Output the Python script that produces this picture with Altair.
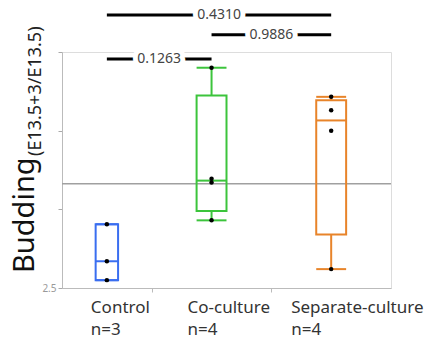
import numpy as np
import pandas as pd
import altair as alt

# ---- data ----
groups = ["Control", "Co-culture", "Separate-culture"]
control_vals = [3.31, 2.84, 2.60]
coculture_vals = [5.30, 3.89, 3.84, 3.36]
separate_vals = [4.93, 4.76, 4.50, 2.74]
group_colors = ["#3a6ef0", "#3cc43c", "#e8842a"]

pairs_a = ["Control", "Co-culture", "Control"]
pairs_b = ["Co-culture", "Separate-culture", "Separate-culture"]
p_labels = ["0.1263", "0.9886", "0.4310"]
bracket_levels = [5.41, 5.72, 5.97]

y_ticks = [2.5, 3.0, 3.5, 4.0, 4.5, 5.0, 5.5]
label_dx = [-16, -24, -40]

# ---- derived tables ----
all_vals = [control_vals, coculture_vals, separate_vals]
ns = [len(v) for v in all_vals]
total_n = sum(ns)
lefts = np.concatenate([[0], np.cumsum(ns)[:-1]])
centers = {g: float(l + n / 2) for g, l, n in zip(groups, lefts, ns)}

pts = pd.DataFrame(
    [{"group": g, "x": centers[g], "value": v} for g, vals in zip(groups, all_vals) for v in vals]
)

box_rows = []
for g, vals, n in zip(groups, all_vals, ns):
    q1, med, q3 = np.percentile(vals, [25, 50, 75], method="weibull")
    box_rows.append({
        "group": g, "x": centers[g],
        "xl": centers[g] - n / 8, "xr": centers[g] + n / 8,
        "q1": q1, "med": med, "q3": q3, "mn": min(vals), "mx": max(vals),
        "label": f"{g}\nn={n}",
    })
box = pd.DataFrame(box_rows)

grand_mean = float(np.mean([v for vals in all_vals for v in vals]))
mean_df = pd.DataFrame({"x0": [0.0], "x1": [float(total_n)], "y": [grand_mean]})

br = pd.DataFrame({
    "xa": [centers[a] for a in pairs_a],
    "xb": [centers[b] for b in pairs_b],
    "label": p_labels,
    "level": bracket_levels,
})
br["mid"] = (br["xa"] + br["xb"]) / 2

W, H = 329, 236
FONT = "Noto Sans"

xs = alt.Scale(domain=[0, total_n], nice=False, zero=False)
ys = alt.Scale(domain=[2.5, 5.5], nice=False, zero=False)
cs = alt.Scale(domain=groups, range=group_colors)

x_axis = alt.Axis(values=[3, 7], labels=False, title=None, tickSize=4, grid=False,
                  tickColor="#bbbbbb", domainColor="#bbbbbb")
y_axis = alt.Axis(values=y_ticks, title=None, tickSize=4, grid=False,
                  tickColor="#aaaaaa", domainColor="#bbbbbb", labelOverlap=False,
                  labelExpr="datum.value == 2.5 ? '2.5' : ''",
                  labelColor="#999999", labelFontSize=10, labelFont=FONT)

mean_line = alt.Chart(mean_df).mark_rule(color="#a0a0a0", strokeWidth=1.5).encode(
    x=alt.X("x0:Q", scale=xs, axis=x_axis),
    x2="x1:Q",
    y=alt.Y("y:Q", scale=ys, axis=y_axis),
)

base = alt.Chart(box)
rects = base.mark_rect(fillOpacity=0, strokeWidth=2).encode(
    x=alt.X("xl:Q", scale=xs), x2="xr:Q",
    y=alt.Y("q1:Q", scale=ys), y2="q3:Q",
    stroke=alt.Stroke("group:N", scale=cs, legend=None),
)
medians = base.mark_rule(strokeWidth=2).encode(
    x=alt.X("xl:Q", scale=xs), x2="xr:Q",
    y=alt.Y("med:Q", scale=ys),
    color=alt.Color("group:N", scale=cs, legend=None),
)
whisk_hi = base.mark_rule(strokeWidth=2).encode(
    x=alt.X("x:Q", scale=xs),
    y=alt.Y("q3:Q", scale=ys), y2="mx:Q",
    color=alt.Color("group:N", scale=cs, legend=None),
)
whisk_lo = base.mark_rule(strokeWidth=2).encode(
    x=alt.X("x:Q", scale=xs),
    y=alt.Y("mn:Q", scale=ys), y2="q1:Q",
    color=alt.Color("group:N", scale=cs, legend=None),
)
cap_hi = base.mark_rule(strokeWidth=2).encode(
    x=alt.X("xl:Q", scale=xs), x2="xr:Q",
    y=alt.Y("mx:Q", scale=ys),
    color=alt.Color("group:N", scale=cs, legend=None),
)
cap_lo = base.mark_rule(strokeWidth=2).encode(
    x=alt.X("xl:Q", scale=xs), x2="xr:Q",
    y=alt.Y("mn:Q", scale=ys),
    color=alt.Color("group:N", scale=cs, legend=None),
)

points = alt.Chart(pts).mark_circle(size=20, color="black", opacity=1).encode(
    x=alt.X("x:Q", scale=xs),
    y=alt.Y("value:Q", scale=ys),
)

br_lines = alt.Chart(br).mark_rule(color="black", strokeWidth=3).encode(
    x=alt.X("xa:Q", scale=xs), x2="xb:Q",
    y=alt.Y("level:Q", scale=ys),
)
br_halo = alt.Chart(br).mark_text(font=FONT, fontSize=14, fill="white", stroke="white",
                                  strokeWidth=10, strokeJoin="round", baseline="middle").encode(
    x=alt.X("mid:Q", scale=xs), y=alt.Y("level:Q", scale=ys), text="label:N",
)
br_text = alt.Chart(br).mark_text(font=FONT, fontSize=14, color="#444444", baseline="middle").encode(
    x=alt.X("mid:Q", scale=xs), y=alt.Y("level:Q", scale=ys), text="label:N",
)

label_layers = []
for i, g in enumerate(groups):
    label_layers.append(
        alt.Chart(box[box["group"] == g]).mark_text(
            font=FONT, fontSize=17, color="#333333", align="left", baseline="alphabetic",
            lineBreak="\n", lineHeight=22, dx=label_dx[i],
        ).encode(x=alt.X("x:Q", scale=xs), y=alt.value(H + 25), text="label:N")
    )

title_df = pd.DataFrame({"a": ["Budding"], "b": ["(E13.5+3/E13.5)"]})
title_big = alt.Chart(title_df).mark_text(
    font=FONT, fontSize=29, color="#111111", angle=270, align="left", baseline="alphabetic"
).encode(x=alt.value(-28), y=alt.value(221), text="a:N")
title_small = alt.Chart(title_df).mark_text(
    font=FONT, fontSize=18, color="#222222", angle=270, align="left", baseline="alphabetic"
).encode(x=alt.value(-21), y=alt.value(104), text="b:N")

chart = alt.layer(
    mean_line, rects, medians, whisk_hi, whisk_lo, cap_hi, cap_lo, points,
    br_lines, br_halo, br_text, *label_layers, title_big, title_small,
).properties(
    width=W, height=H,
    autosize=alt.AutoSizeParams(type="none"),
    padding={"left": 54, "top": 44, "right": 40, "bottom": 51},
).configure_view(stroke="#cccccc", strokeWidth=1.5).configure(background="white")

chart.save("out.html", embed_options={"renderer": "svg", "actions": False})
